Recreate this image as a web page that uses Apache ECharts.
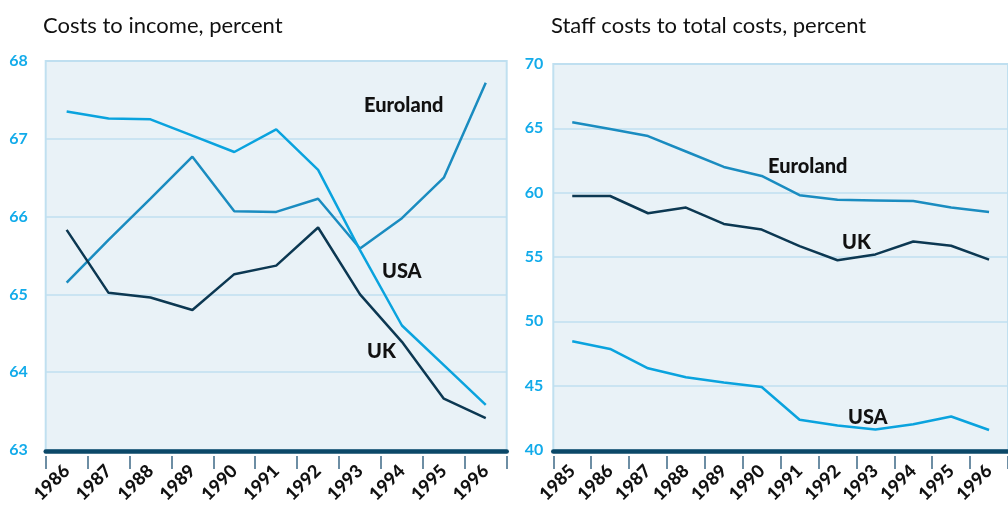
<!DOCTYPE html>
<html>
<head>
<meta charset="utf-8">
<script src="https://cdn.jsdelivr.net/npm/echarts@6/dist/echarts.min.js"></script>
<style>
html,body{margin:0;padding:0;background:#fff;}
#c{width:1008px;height:506px;}
</style>
</head>
<body>
<div id="c"></div>
<script>
// Left panel: Costs to income, percent
var leftYears = ['1986','1987','1988','1989','1990','1991','1992','1993','1994','1995','1996'];
var leftEuroland = [65.15, 65.70, 66.23, 66.77, 66.07, 66.06, 66.23, 65.59, 65.98, 66.50, 67.72];
var leftUSA      = [67.35, 67.26, 67.25, 67.04, 66.83, 67.12, 66.60, 65.57, 64.60, 64.09, 63.58];
var leftUK       = [65.83, 65.02, 64.96, 64.80, 65.26, 65.37, 65.86, 65.00, 64.39, 63.66, 63.41];
var leftTicks = {min: 63, max: 68, interval: 1};

// Right panel: Staff costs to total costs, percent
var rightYears = ['1985','1986','1987','1988','1989','1990','1991','1992','1993','1994','1995','1996'];
var rightEuroland = [65.48, 64.95, 64.40, 63.20, 62.00, 61.30, 59.80, 59.45, 59.40, 59.35, 58.85, 58.50];
var rightUK       = [59.74, 59.74, 58.40, 58.84, 57.57, 57.13, 55.84, 54.75, 55.20, 56.20, 55.87, 54.80];
var rightUSA      = [48.45, 47.85, 46.35, 45.65, 45.25, 44.90, 42.35, 41.90, 41.60, 42.00, 42.60, 41.55];
var rightTicks = {min: 40, max: 70, interval: 5};

var titles = ['Costs to income, percent', 'Staff costs to total costs, percent'];
var seriesNames = ['Euroland', 'USA', 'UK'];

var FONT = 'Lato, "Noto Sans", sans-serif';
var C_EURO = '#1a8cc0';
var C_USA = '#0aa3de';
var C_UK = '#0c3852';
var C_AXISLBL = '#12abea';

function xAxes(gridIndex, years) {
  return [
    {
      type: 'category', gridIndex: gridIndex, data: years, boundaryGap: true,
      position: 'bottom', offset: 1,
      axisLine: {show: true, lineStyle: {color: '#0b4868', width: 4.5}},
      axisTick: {show: false},
      axisLabel: {rotate: 45, margin: 17, interval: 0, color: '#111', fontFamily: FONT,
                  fontWeight: 900, fontSize: 18}
    },
    {
      type: 'category', gridIndex: gridIndex, data: years, boundaryGap: true,
      position: 'bottom', offset: 6,
      axisLine: {show: false},
      axisTick: {show: true, interval: 0, length: 13, lineStyle: {color: '#3e6a86', width: 1.5}},
      axisLabel: {show: false}
    }
  ];
}

function yAxis(gridIndex, t, margin) {
  return {
    type: 'value', gridIndex: gridIndex, min: t.min, max: t.max, interval: t.interval,
    axisLine: {show: false}, axisTick: {show: false},
    axisLabel: {color: C_AXISLBL, fontFamily: FONT, fontWeight: 'bold', fontSize: 16,
                margin: margin, padding: [0, 0, 6, 0]},
    splitLine: {show: true, lineStyle: {color: '#bfdff0', width: 1.5}}
  };
}

function line(name, data, color, xi, yi) {
  return {
    type: 'line', name: name, data: data, xAxisIndex: xi, yAxisIndex: yi,
    symbol: 'none', smooth: false, animation: false,
    lineStyle: {color: color, width: 2.5}
  };
}

function label(text, x, y) {
  return {type: 'text', left: x, top: y - 9,
          style: {text: text, font: '900 20px ' + FONT, fill: '#111'}};
}

var chart = echarts.init(document.getElementById('c'));
chart.setOption({
  animation: false,
  backgroundColor: '#fff',
  title: [
    {text: titles[0], left: 38, top: 10,
     textStyle: {fontFamily: FONT, fontSize: 22, fontWeight: 'normal', color: '#111'}},
    {text: titles[1], left: 546, top: 10,
     textStyle: {fontFamily: FONT, fontSize: 22, fontWeight: 'normal', color: '#111'}}
  ],
  grid: [
    {left: 45.7, top: 61, width: 461, height: 391, show: true,
     backgroundColor: '#e9f2f7', borderColor: '#c0e0f0', borderWidth: 2},
    {left: 553.3, top: 64, width: 461, height: 388, show: true,
     backgroundColor: '#e9f2f7', borderColor: '#c0e0f0', borderWidth: 2}
  ],
  xAxis: xAxes(0, leftYears).concat(xAxes(1, rightYears)),
  yAxis: [yAxis(0, leftTicks, 18), yAxis(1, rightTicks, 10)],
  series: [
    line(seriesNames[0], leftEuroland, C_EURO, 0, 0),
    line(seriesNames[1], leftUSA, C_USA, 0, 0),
    line(seriesNames[2], leftUK, C_UK, 0, 0),
    line(seriesNames[0], rightEuroland, C_EURO, 2, 1),
    line(seriesNames[1], rightUSA, C_USA, 2, 1),
    line(seriesNames[2], rightUK, C_UK, 2, 1)
  ],
  graphic: [
    label(seriesNames[0], 364, 105),
    label(seriesNames[1], 382, 271),
    label(seriesNames[2], 367, 351),
    label(seriesNames[0], 768, 166),
    label(seriesNames[2], 842, 242),
    label(seriesNames[1], 848, 417)
  ]
});
</script>
</body>
</html>
